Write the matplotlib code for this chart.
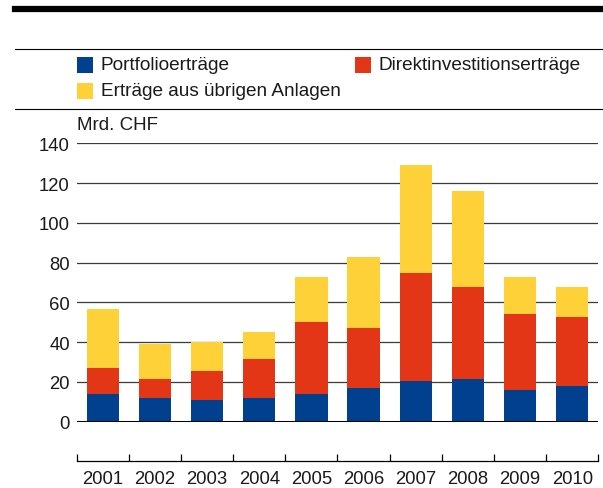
import numpy as np
import matplotlib
matplotlib.use("Agg")
import matplotlib.pyplot as plt
from matplotlib.patches import Rectangle
from matplotlib.lines import Line2D

years = ['2001', '2002', '2003', '2004', '2005', '2006', '2007', '2008', '2009', '2010']
portfolio = [14, 12, 11, 12, 14, 17, 20.5, 21.5, 16, 18]
direkt = [13, 9.5, 14.5, 19.5, 36, 30, 54.5, 46, 38, 34.5]
uebrige = [29.5, 17.5, 14.5, 13.5, 23, 36, 54, 48.5, 19, 15]

labels = ['Portfolioerträge', 'Direktinvestitionserträge', 'Erträge aus übrigen Anlagen']
colors = ['#00408f', '#e33617', '#fed139']
yticks = [0, 20, 40, 60, 80, 100, 120, 140]
unit = 'Mrd. CHF'

plt.rcParams['font.family'] = ['Liberation Sans', 'DejaVu Sans']
plt.rcParams['font.size'] = 13

W, H = 603, 489
fig = plt.figure(figsize=(W / 100, H / 100), dpi=100)

def fx(px):
    return px / W

def fy(py):
    return 1 - py / H

# header rules
fig.add_artist(Line2D([fx(15), 1], [fy(9.5), fy(9.5)], color='black', lw=4.5, transform=fig.transFigure))
fig.add_artist(Line2D([fx(15), 1], [fy(50), fy(50)], color='black', lw=0.8, transform=fig.transFigure))
fig.add_artist(Line2D([fx(15), 1], [fy(110), fy(110)], color='black', lw=0.8, transform=fig.transFigure))

# legend
leg_pos = [(77, 66), (355, 66), (77, 92)]
for (lx, ly), lab, col in zip(leg_pos, labels, colors):
    fig.add_artist(Rectangle((fx(lx), fy(ly + 8)), fx(16), 16 / H, color=col,
                             transform=fig.transFigure, lw=0))
    fig.text(fx(lx + 24), fy(ly), lab, va='center', ha='left', color='#1a1a1a', fontsize=13.7)

fig.text(fx(77), fy(126), unit, va='center', ha='left', color='#1a1a1a', fontsize=13.5)

ax = fig.add_axes([fx(76.7), fy(422.7), fx(598.3 - 76.7), (422.7 - 144.3) / H])

x = np.arange(len(years))
w = 0.62
p = np.array(portfolio)
d = np.array(direkt)
u = np.array(uebrige)
ax.bar(x, p, w, color=colors[0], lw=0, zorder=3)
ax.bar(x, d, w, bottom=p, color=colors[1], lw=0, zorder=3)
ax.bar(x, u, w, bottom=p + d, color=colors[2], lw=0, zorder=3)

ax.set_xlim(-0.5, len(years) - 0.5)
ax.set_ylim(0, 140)
ax.set_yticks(yticks)
ax.tick_params(axis='y', length=0, pad=5, colors='#1a1a1a', labelsize=13.3)
for t in yticks[1:]:
    ax.axhline(t, color='#3a3a3a', lw=0.9, zorder=1)
ax.axhline(0, color='black', lw=2.2, zorder=4)

for s in ['top', 'right', 'left']:
    ax.spines[s].set_visible(False)
ax.spines['bottom'].set_position(('outward', 28.5))
ax.spines['bottom'].set_linewidth(0.9)
ax.set_xticks(np.arange(-0.5, len(years), 1.0))
ax.set_xticklabels([])
ax.tick_params(axis='x', which='major', direction='in', length=5, width=0.9)
ax.set_xticks(x, minor=True)
ax.set_xticklabels(years, minor=True)
ax.tick_params(axis='x', which='minor', length=0, pad=6, colors='#1a1a1a', labelsize=13.3)

fig.savefig('out.png', dpi=100)
